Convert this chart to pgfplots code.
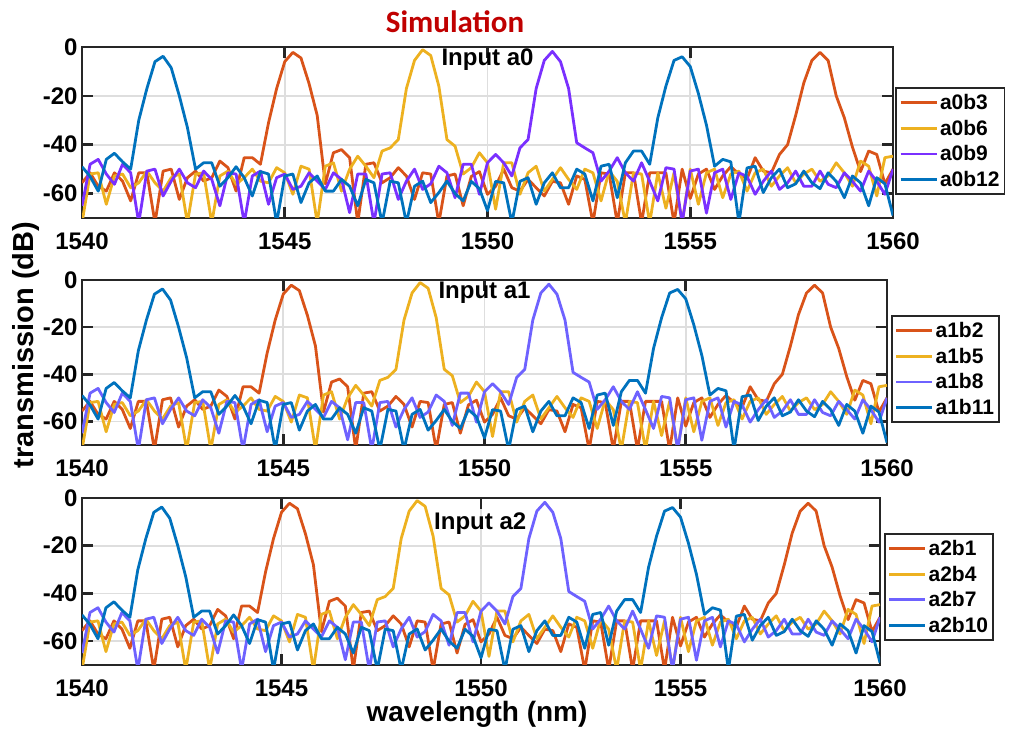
\documentclass[border=0pt]{standalone}
\usepackage{fontspec}
\setmainfont{Liberation Sans}
\newfontfamily\carlito{Carlito}
\usepackage{pgfplots}
\usepackage{pgfplotstable}
\pgfplotsset{compat=1.18}
\definecolor{cO}{RGB}{217,83,25}
\definecolor{cY}{RGB}{237,177,32}
\definecolor{cP}{RGB}{122,48,255}
\definecolor{cPb}{RGB}{110,98,255}
\definecolor{cB}{RGB}{0,114,189}
\definecolor{tred}{RGB}{192,0,0}

\pgfplotstableread{
x y
1540.0 -55.6
1540.2 -51.5
1540.4 -57
1540.6 -59
1540.8 -51.5
1541.0 -54.9
1541.2 -63
1541.4 -51.5
1541.6 -51.5
1541.8 -72
1542.0 -50.8
1542.2 -50
1542.4 -62.4
1542.6 -53.5
1542.8 -50.8
1543.0 -54.9
1543.2 -53.5
1543.4 -46.7
1543.6 -49.4
1543.8 -59
1544.0 -45.3
1544.2 -45.3
1544.4 -48
1544.6 -31
1544.8 -17
1545.0 -6
1545.2 -2.2
1545.4 -4.5
1545.6 -15
1545.8 -28
1546.0 -56
1546.2 -43.3
1546.4 -42
1546.6 -45.3
1546.8 -72
1547.0 -48
1547.2 -47.4
1547.4 -55.6
1547.6 -53.5
1547.8 -49.4
1548.0 -52.8
1548.2 -62.4
1548.4 -51.5
1548.6 -52
1548.8 -72
1549.0 -52.8
1549.2 -52
1549.4 -65
1549.6 -53
1549.8 -51
1550.0 -60.3
1550.2 -57
1550.4 -50
1550.6 -57.6
1550.8 -59
1551.0 -54.2
1551.2 -57.6
1551.4 -61
1551.6 -55
1551.8 -55.6
1552.0 -64.4
1552.2 -52.8
1552.4 -54.2
1552.6 -72
1552.8 -51.5
1553.0 -52
1553.2 -72
1553.4 -51.5
1553.6 -51.5
1553.8 -72
1554.0 -51.5
1554.2 -51.5
1554.4 -51.5
1554.6 -72
1554.8 -50
1555.0 -62
1555.2 -52
1555.4 -50
1555.6 -58.3
1555.8 -52.8
1556.0 -49
1556.2 -52
1556.4 -54
1556.6 -45.3
1556.8 -50.8
1557.0 -51.5
1557.2 -44
1557.4 -40
1557.6 -28
1557.8 -14.7
1558.0 -5.5
1558.2 -2.2
1558.4 -5.5
1558.6 -20
1558.8 -29
1559.0 -41
1559.2 -51
1559.4 -42.6
1559.6 -44
1559.8 -56
1560.0 -50
}\tabO

\pgfplotstableread{
x y
1540.0 -72
1540.2 -52
1540.4 -51.5
1540.6 -64.4
1540.8 -52.8
1541.0 -52
1541.2 -57.6
1541.4 -55.6
1541.6 -50.8
1541.8 -55.6
1542.0 -59
1542.2 -53.5
1542.4 -52
1542.6 -72
1542.8 -52
1543.0 -51.5
1543.2 -72
1543.4 -52.8
1543.6 -50.8
1543.8 -56.2
1544.0 -53.5
1544.2 -50
1544.4 -54.9
1544.6 -55.6
1544.8 -49.4
1545.0 -51.5
1545.2 -60.3
1545.4 -48.8
1545.6 -50
1545.8 -72
1546.0 -48.8
1546.2 -47.4
1546.4 -59
1546.6 -50
1546.8 -44.7
1547.0 -48.8
1547.2 -53.5
1547.4 -42.6
1547.6 -41.3
1547.8 -37.9
1548.0 -17
1548.2 -5.5
1548.4 -1.1
1548.6 -3.5
1548.8 -16
1549.0 -37.9
1549.2 -40.6
1549.4 -52
1549.6 -49.4
1549.8 -43.3
1550.0 -47.4
1550.2 -66.4
1550.4 -47.4
1550.6 -47.4
1550.8 -60.3
1551.0 -51.5
1551.2 -48.8
1551.4 -59
1551.6 -54.2
1551.8 -49.4
1552.0 -54.2
1552.2 -58.3
1552.4 -50
1552.6 -51.5
1552.8 -63
1553.0 -50.8
1553.2 -55
1553.4 -72
1553.6 -51.5
1553.8 -52
1554.0 -72
1554.2 -51.5
1554.4 -66
1554.6 -51.5
1554.8 -72
1555.0 -50
1555.2 -64.4
1555.4 -51.5
1555.6 -50
1555.8 -61.7
1556.0 -52
1556.2 -50.8
1556.4 -59
1556.6 -51.5
1556.8 -50
1557.0 -57
1557.2 -52.8
1557.4 -49.4
1557.6 -55.6
1557.8 -52
1558.0 -50
1558.2 -55
1558.4 -52.8
1558.6 -47.4
1558.8 -51.5
1559.0 -57
1559.2 -46.7
1559.4 -48.8
1559.6 -61
1559.8 -45.3
1560.0 -44.7
}\tabY

\pgfplotstableread{
x y
1540.0 -65
1540.2 -48
1540.4 -46
1540.6 -52
1540.8 -56.2
1541.0 -48
1541.2 -51.5
1541.4 -72
1541.6 -50.8
1541.8 -50
1542.0 -61
1542.2 -54.9
1542.4 -50
1542.6 -55.6
1542.8 -57.6
1543.0 -50.8
1543.2 -54.2
1543.4 -65
1543.6 -51.5
1543.8 -52
1544.0 -72
1544.2 -52.8
1544.4 -50.8
1544.6 -64.4
1544.8 -53.5
1545.0 -52
1545.2 -58.3
1545.4 -57
1545.6 -51.5
1545.8 -54.9
1546.0 -58.3
1546.2 -51.5
1546.4 -54.2
1546.6 -67.8
1546.8 -52
1547.0 -52
1547.2 -72
1547.4 -52
1547.6 -51.5
1547.8 -62.4
1548.0 -54.9
1548.2 -50
1548.4 -58.3
1548.6 -56
1548.8 -48.8
1549.0 -51.5
1549.2 -61.7
1549.4 -48
1549.6 -48
1549.8 -60.3
1550.0 -47.4
1550.2 -44
1550.4 -47.4
1550.6 -52.8
1550.8 -41.3
1551.0 -37.9
1551.2 -17
1551.4 -5.5
1551.6 -1.8
1551.8 -6
1552.0 -17
1552.2 -39.2
1552.4 -41.3
1552.6 -43.3
1552.8 -54.9
1553.0 -50.8
1553.2 -45.3
1553.4 -51.5
1553.6 -54.9
1553.8 -47.4
1554.0 -55
1554.2 -63
1554.4 -49.4
1554.6 -50
1554.8 -72
1555.0 -50.8
1555.2 -50
1555.4 -68
1555.6 -51.5
1555.8 -50
1556.0 -62.4
1556.2 -51.5
1556.4 -53
1556.6 -60.3
1556.8 -55
1557.0 -50.8
1557.2 -58.3
1557.4 -55.6
1557.6 -50.8
1557.8 -57
1558.0 -57
1558.2 -50.8
1558.4 -56.2
1558.6 -57.6
1558.8 -51.5
1559.0 -55
1559.2 -59
1559.4 -50.8
1559.6 -55
1559.8 -60.3
1560.0 -50
}\tabP

\pgfplotstableread{
x y
1540.0 -49
1540.2 -53
1540.4 -59
1540.6 -46
1540.8 -43.5
1541.0 -47
1541.2 -50
1541.4 -30
1541.6 -17
1541.8 -6
1542.0 -3.8
1542.2 -8.5
1542.4 -20
1542.6 -33
1542.8 -50
1543.0 -47.4
1543.2 -47.4
1543.4 -57
1543.6 -53.5
1543.8 -49
1544.0 -53.5
1544.2 -61
1544.4 -51
1544.6 -52
1544.8 -72
1545.0 -52.8
1545.2 -52
1545.4 -63.7
1545.6 -55.6
1545.8 -52.8
1546.0 -59
1546.2 -59
1546.4 -54.2
1546.6 -57
1546.8 -65
1547.0 -54.2
1547.2 -55.6
1547.4 -72
1547.6 -54.9
1547.8 -55.6
1548.0 -72
1548.2 -57
1548.4 -54.9
1548.6 -63.7
1548.8 -59.6
1549.0 -54.9
1549.2 -60
1549.4 -63
1549.6 -55
1549.8 -58
1550.0 -67
1550.2 -55
1550.4 -55.6
1550.6 -72
1550.8 -55
1551.0 -53.5
1551.2 -64.4
1551.4 -55.6
1551.6 -51.5
1551.8 -57.6
1552.0 -57.6
1552.2 -50
1552.4 -52
1552.6 -63
1552.8 -48.8
1553.0 -48
1553.2 -61.7
1553.4 -47.4
1553.6 -42.6
1553.8 -42.6
1554.0 -48
1554.2 -29
1554.4 -16
1554.6 -5.5
1554.8 -4
1555.0 -8
1555.2 -19
1555.4 -32
1555.6 -48.8
1555.8 -46
1556.0 -47
1556.2 -72
1556.4 -49.5
1556.6 -48.8
1556.8 -59.6
1557.0 -53.5
1557.2 -50
1557.4 -57.6
1557.6 -56
1557.8 -50.8
1558.0 -55.6
1558.2 -58
1558.4 -51.5
1558.6 -55
1558.8 -61.7
1559.0 -52.8
1559.2 -55.6
1559.4 -65
1559.6 -53.5
1559.8 -56
1560.0 -69
}\tabB

\tikzset{intext/.style={font=\fontsize{24}{26}\selectfont\bfseries, inner sep=1pt}}
\pgfplotsset{
  panel/.style={
    scale only axis,
    xmin=1540, xmax=1560, ymin=-70, ymax=0,
    xtick={1540,1545,1550,1555,1560}, ytick={-60,-40,-20,0},
    grid=major,
    major grid style={draw=black!13, line width=1.8pt},
    axis line style={draw=black!85, line width=2.6pt},
    every tick/.style={draw=black!85, line width=2.6pt},
    major tick length=11pt,
    tick align=inside,
    ticklabel style={font=\fontsize{24}{26}\selectfont\bfseries},
    /pgf/number format/assume math mode=true,
    /pgf/number format/1000 sep={},
    xticklabel style={yshift=-11pt},
    yticklabel style={xshift=-1pt},
    legend cell align=left,
    legend style={draw=black!85, line width=1.6pt,
      font=\fontsize{21}{25}\selectfont\bfseries,
      anchor=west, inner xsep=3pt, inner ysep=4pt, row sep=5pt},
    legend image code/.code={\draw[#1, line width=2.8pt] (0pt,0pt) -- (36pt,0pt);},
    every axis plot/.append style={line width=2.8pt, line join=round, mark=none},
  }
}

\begin{document}
\begin{tikzpicture}[x=1pt,y=1pt]
\path[use as bounding box] (0,0) rectangle (1010,731);

% Panel 1
\begin{axis}[panel, at={(82pt,513pt)}, anchor=south west, width=811pt, height=171pt,
  legend style={at={(1.003,0.45)}}]
\addplot[color=cO] table[x=x,y=y] {\tabO};
\addplot[color=cY] table[x=x,y=y] {\tabY};
\addplot[color=cP] table[x=x,y=y] {\tabP};
\addplot[color=cB] table[x=x,y=y] {\tabB};
\legend{a0b3,a0b6,a0b9,a0b12}
\node[intext] at (rel axis cs:0.5,0.925) {Input a0};
\end{axis}

% Panel 2
\begin{axis}[panel, at={(82pt,286pt)}, anchor=south west, width=805pt, height=165pt,
  legend style={at={(1.005,0.46)}}]
\addplot[color=cO] table[x=x,y=y] {\tabO};
\addplot[color=cY] table[x=x,y=y] {\tabY};
\addplot[color=cPb] table[x=x,y=y] {\tabP};
\addplot[color=cB] table[x=x,y=y] {\tabB};
\legend{a1b2,a1b5,a1b8,a1b11}
\node[intext] at (rel axis cs:0.5,0.925) {Input a1};
\end{axis}

% Panel 3
\begin{axis}[panel, at={(82pt,66pt)}, anchor=south west, width=798pt, height=167pt,
  legend style={at={(1.005,0.467)}}]
\addplot[color=cO] table[x=x,y=y] {\tabO};
\addplot[color=cY] table[x=x,y=y] {\tabY};
\addplot[color=cPb] table[x=x,y=y] {\tabP};
\addplot[color=cB] table[x=x,y=y] {\tabB};
\legend{a2b1,a2b4,a2b7,a2b10}
\node[intext] at (rel axis cs:0.499,0.845) {Input a2};
\end{axis}

\node[font=\carlito\fontsize{31}{34}\selectfont\bfseries, text=tred] at (455,709) {Simulation};
\node[font=\fontsize{29}{32}\selectfont\bfseries, rotate=90] at (26,386) {transmission (dB)};
\node[font=\fontsize{28}{32}\selectfont\bfseries] at (477,17) {wavelength (nm)};
\end{tikzpicture}
\end{document}
